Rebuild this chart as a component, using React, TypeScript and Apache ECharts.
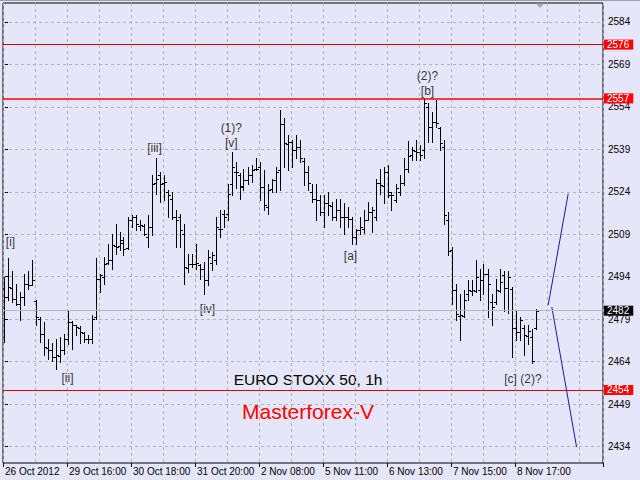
import React, { useEffect, useRef } from 'react';
import * as echarts from 'echarts';

// ---- data ----
const timeLabels = ['26 Oct 2012', '29 Oct 16:00', '30 Oct 18:00', '31 Oct 20:00', '2 Nov 08:00', '5 Nov 11:00', '6 Nov 13:00', '7 Nov 15:00', '8 Nov 17:00'];
const labelEvery = 16;
const totalSlots = 150; // bars + empty chart shift

const opens = [
  2490, 2487, 2490, 2486, 2484.5, 2487, 2491.5, 2491, 2485.5, 2479.2,
  2473.9, 2469, 2468, 2465.6, 2466, 2468, 2472, 2478, 2476.8, 2476,
  2474, 2472, 2472, 2479.8, 2493.3, 2494, 2499, 2500, 2505, 2505,
  2506, 2504, 2514, 2515, 2512, 2512, 2508, 2511.6, 2527, 2529.9,
  2527, 2524, 2521.6, 2515.1, 2515, 2509.2, 2497, 2498.6, 2498.6, 2498,
  2496.9, 2492.8, 2499, 2500, 2511, 2516.3, 2516, 2526.9, 2531.1, 2530,
  2526, 2528, 2530, 2532, 2532.8, 2525.7, 2518.7, 2525, 2528, 2531.6,
  2548, 2541, 2541.7, 2538.7, 2540, 2535, 2531, 2524, 2521.6, 2521,
  2517, 2519.9, 2519, 2515, 2517.5, 2515, 2515, 2514.5, 2508, 2510.4,
  2511, 2514, 2517, 2515, 2527, 2526, 2531, 2523, 2521, 2524,
  2527, 2532, 2537, 2538.5, 2538, 2538.7, 2554, 2547, 2548.7, 2546.4,
  2539.9, 2514, 2503.3, 2489.2, 2480, 2480, 2488, 2489, 2489, 2489.2,
  2493, 2495, 2485, 2485, 2489, 2494.5, 2490, 2489.8, 2476, 2474.5,
  2476, 2473, 2472.7, 2476,
];
const highs = [
  2494, 2500.7, 2496, 2491.5, 2488.6, 2495.1, 2496, 2499.8, 2485.7, 2479.8,
  2478, 2472.1, 2470.6, 2472.1, 2472.7, 2473.9, 2481.9, 2478.5, 2476.8, 2476.5,
  2474.5, 2473.3, 2480.4, 2500.7, 2495.1, 2501, 2505.7, 2509.2, 2512.8, 2509.8,
  2508, 2515.1, 2515.7, 2515.7, 2513.9, 2512.8, 2515.7, 2529.9, 2535.8, 2531,
  2529.9, 2524.6, 2524, 2517.5, 2516.3, 2512.8, 2502.2, 2502.2, 2505.7, 2498.6,
  2499.2, 2503.6, 2502.8, 2515.1, 2517.5, 2517.5, 2526.9, 2538.1, 2534.6, 2530.5,
  2532.2, 2532.8, 2533.4, 2535.8, 2534.6, 2531.6, 2526.9, 2528.7, 2532.8, 2552.9,
  2549.9, 2544, 2542.3, 2544, 2542.3, 2536, 2533, 2526.9, 2526.9, 2522.8,
  2522.8, 2524, 2520.4, 2521.6, 2521.6, 2519.9, 2518.7, 2515.1, 2511, 2515.1,
  2517.5, 2520.4, 2518.7, 2528.7, 2532.2, 2532.8, 2533.4, 2524, 2526.9, 2530,
  2536, 2542, 2539.9, 2542.3, 2540.5, 2557, 2555.2, 2552.3, 2556.4, 2547,
  2542.3, 2516.9, 2504.6, 2491.6, 2488, 2489.2, 2492.7, 2492.7, 2499.8, 2496.9,
  2498.6, 2496.9, 2488, 2493.3, 2496.9, 2496, 2496, 2490.4, 2482.1, 2479.8,
  2476.8, 2476.8, 2475.6, 2482.7,
];
const lows = [
  2471, 2485.7, 2485.1, 2483.9, 2478.6, 2483.9, 2489.8, 2491, 2477, 2470.9,
  2466.2, 2465, 2464.4, 2461.5, 2463.8, 2466.6, 2470.3, 2468.6, 2473.3, 2470.6,
  2470.9, 2470.6, 2470.6, 2479.2, 2488.6, 2491.5, 2498.6, 2496.9, 2502.2, 2503.3,
  2501.6, 2503.9, 2511.6, 2510.4, 2510.4, 2508.6, 2504.5, 2508.6, 2523.4, 2520.4,
  2521, 2515.1, 2514.5, 2504.5, 2504.5, 2491.6, 2495.7, 2497.4, 2496.9, 2493.3,
  2488, 2491, 2496.3, 2498.6, 2508.1, 2511.6, 2513.9, 2522.8, 2525.2, 2521.6,
  2524.6, 2526.9, 2527.5, 2531.6, 2521, 2517.5, 2516.3, 2524, 2524, 2524.6,
  2532.8, 2531.6, 2532.8, 2535.8, 2534.6, 2526.5, 2524.6, 2520.4, 2513.9, 2515.7,
  2511.6, 2515.7, 2513.9, 2513.9, 2511.6, 2509.2, 2511.6, 2505.7, 2505.7, 2509.2,
  2509.5, 2513.9, 2509.8, 2513.9, 2523.4, 2519.9, 2522.2, 2517.5, 2520.4, 2522.8,
  2526.5, 2531, 2535.2, 2535.2, 2535.2, 2535.8, 2541.7, 2541.7, 2547, 2538.7,
  2512.8, 2501.6, 2484.5, 2478.6, 2471.5, 2479.8, 2485.7, 2487.4, 2488.5, 2485.7,
  2488, 2479.8, 2476.8, 2484.5, 2488.5, 2481.8, 2481.2, 2465.6, 2471.5, 2471.5,
  2466.2, 2470.3, 2463.5, 2475.6,
];
const closes = [
  2487, 2490.4, 2486, 2484.5, 2487, 2491.5, 2491, 2493, 2479.8, 2473.9,
  2469.1, 2468, 2465.6, 2466.2, 2468, 2472.1, 2478, 2476.8, 2476.2, 2474.5,
  2472.1, 2472.1, 2479.2, 2493.3, 2494.5, 2498.6, 2499.8, 2505.1, 2504.5, 2506.9,
  2503.9, 2513.9, 2515.1, 2512.8, 2512.2, 2509.2, 2511.6, 2526.9, 2528.7, 2526.9,
  2527.5, 2522.8, 2515.1, 2514, 2510.4, 2497.4, 2498.6, 2498.6, 2499, 2496.9,
  2492.8, 2501, 2501.6, 2511.6, 2511, 2515.1, 2523.4, 2532.8, 2531, 2525.7,
  2528.1, 2529.9, 2531.6, 2532.2, 2525.7, 2519.3, 2524.6, 2528.1, 2531, 2548.1,
  2541.1, 2541.7, 2538.7, 2539.9, 2535.8, 2531, 2527, 2521.6, 2521, 2516.9,
  2519.9, 2519.3, 2515.1, 2517.5, 2515.1, 2515.1, 2514.5, 2508.1, 2510.4, 2511.5,
  2514, 2516.9, 2517.5, 2527, 2526.3, 2531.1, 2524, 2522.8, 2525.2, 2527,
  2532, 2536.5, 2538.7, 2538.1, 2536.9, 2555.2, 2547, 2548.7, 2548.2, 2541.1,
  2515.7, 2503, 2489.2, 2481, 2480.4, 2485.7, 2489.2, 2489.2, 2493.9, 2492.7,
  2495.1, 2491.6, 2483.3, 2489.2, 2492.1, 2490, 2493.9, 2476, 2474.5, 2478.6,
  2473.3, 2475, 2464.4, 2482,
];

const priceTicks = [2434, 2449, 2464, 2479, 2494, 2509, 2524, 2539, 2554, 2569, 2584];
const levelLines = [2576, 2557, 2454];
const currentPrice = 2482;
const priceMin = 2428.2;
const priceMax = 2590.7;

// forecast lines (bar index, price)
const forecastUp = [[135.8, 2484], [140.8, 2523.3]];
const forecastDown = [[136.7, 2483.3], [142.9, 2433.8]];

// wave annotations
const waveTexts = ['[i]', '[ii]', '[iii]', '(1)?', '[v]', '[iv]', '[a]', '(2)?', '[b]', '[c] (2)?'];
const waveBars = [1.5, 15.75, 37.5, 56.7, 56.7, 50.75, 86.5, 105.75, 105.75, 129.6];
const wavePrices = [2506.2, 2458.1, 2539.4, 2546.4, 2541.1, 2482.5, 2501.2, 2564.9, 2559.3, 2457.7];

const BG = '#E6E6FA';
const FONT = 'Liberation Sans, Arial, sans-serif';

export default function App() {
  const ref = useRef<HTMLDivElement>(null);
  useEffect(() => {
    if (!ref.current) return;
    const chart = echarts.init(ref.current, null, { renderer: 'svg' });
    const categories = Array.from({ length: totalSlots }, (_, i) => String(i));
    const ohlc = opens.map((o, i) => [i, o, highs[i], lows[i], closes[i]]);
    const isLabelIdx = (i: number) => i % labelEvery === 0 && i < opens.length;

    const lineStyleBar = { stroke: '#000', lineWidth: 1 };

    const priceLabel = (bg: string) => ({
      show: true,
      position: 'end',
      distance: 1,
      formatter: (p: any) => String(p.value),
      color: '#fff',
      backgroundColor: bg,
      fontSize: 10,
      fontFamily: FONT,
      lineHeight: 10,
      padding: [0, 4, 0, 3],
    });

    chart.setOption({
      animation: false,
      backgroundColor: BG,
      grid: {
        left: 3, top: 3, right: 37, bottom: 17,
        show: true, borderColor: '#000', borderWidth: 1, backgroundColor: BG,
      },
      xAxis: [
        {
          type: 'category',
          data: categories,
          boundaryGap: true,
          axisLine: { show: false },
          axisTick: {
            show: true, length: 4, lineStyle: { color: '#000' },
            interval: (i: number) => isLabelIdx(i),
          },
          axisLabel: {
            show: true,
            interval: (i: number) => isLabelIdx(i),
            formatter: (_v: string, i: number) => (isLabelIdx(i) ? timeLabels[i / labelEvery] : ''),
            align: 'left',
            margin: 3,
            color: '#000',
            fontSize: 10,
            fontFamily: FONT,
            hideOverlap: false,
          },
          splitLine: {
            show: true,
            interval: (i: number) => i % 8 === 0,
            lineStyle: { color: '#b4b4b4', type: [3, 3], width: 1 },
          },
        },
        {
          type: 'value',
          min: -0.5,
          max: totalSlots - 0.5,
          show: false,
        },
      ],
      yAxis: {
        type: 'value',
        position: 'right',
        min: priceMin,
        max: priceMax,
        axisLine: { show: false },
        axisTick: { show: true, length: 3, customValues: priceTicks, lineStyle: { color: '#000' } },
        axisLabel: {
          show: true, customValues: priceTicks, margin: 5, color: '#000', fontSize: 10,
          fontFamily: FONT,
          formatter: (v: number) => String(Math.round(v)),
        },
        splitLine: { show: true, lineStyle: { color: '#b4b4b4', type: [3, 3], width: 1 } },
      },
      graphic: [
        { type: 'rect', shape: { x: 0, y: 0, width: 640, height: 1 }, style: { fill: '#a0a0a0' }, silent: true },
        { type: 'polygon', shape: { points: [[536, 3.5], [544, 3.5], [540, 8]] }, style: { fill: '#a8a8a8' }, silent: true },
        {
          type: 'text', x: 308, y: 379, silent: true,
          style: { text: 'EURO STOXX 50, 1h', fill: '#000', fontSize: 15.5, fontFamily: FONT, align: 'center', verticalAlign: 'middle' },
        },
        {
          type: 'text', x: 308, y: 411, silent: true,
          style: { text: 'Masterforex-V', fill: '#ff0000', fontSize: 21, fontFamily: FONT, align: 'center', verticalAlign: 'middle' },
        },
      ],
      series: [
        {
          type: 'custom',
          xAxisIndex: 0,
          clip: true,
          data: ohlc,
          encode: { x: 0, y: [1, 2, 3, 4] },
          renderItem: (_params: any, api: any) => {
            const idx = api.value(0);
            const pO = api.coord([idx, api.value(1)]);
            const pH = api.coord([idx, api.value(2)]);
            const pL = api.coord([idx, api.value(3)]);
            const pC = api.coord([idx, api.value(4)]);
            const x = Math.floor(pO[0]) - 0.5;
            const oy = Math.round(pO[1]) + 0.5;
            const cy = Math.round(pC[1]) + 0.5;
            return {
              type: 'group',
              children: [
                { type: 'line', shape: { x1: x, y1: Math.round(pH[1]), x2: x, y2: Math.round(pL[1]) + 1 }, style: lineStyleBar },
                { type: 'line', shape: { x1: x - 2.5, y1: oy, x2: x, y2: oy }, style: lineStyleBar },
                { type: 'line', shape: { x1: x, y1: cy, x2: x + 2.5, y2: cy }, style: lineStyleBar },
              ],
            };
          },
          markLine: {
            silent: true,
            symbol: 'none',
            data: [
              { yAxis: levelLines[0], lineStyle: { color: '#e00000', width: 1, type: 'solid' }, label: priceLabel('#ff0000') },
              { yAxis: levelLines[1], lineStyle: { color: '#ff0000', width: 1.5, type: 'solid' }, label: priceLabel('#ff0000') },
              { yAxis: levelLines[2], lineStyle: { color: '#e00000', width: 1, type: 'solid' }, label: priceLabel('#ff0000') },
              { yAxis: currentPrice, lineStyle: { color: '#b8b8b8', width: 1, type: 'solid' }, label: priceLabel('#000000') },
            ],
          },
        },
        {
          type: 'line',
          xAxisIndex: 1,
          data: forecastUp,
          symbol: 'none',
          lineStyle: { color: '#1a1aa0', width: 1 },
          silent: true,
        },
        {
          type: 'line',
          xAxisIndex: 1,
          data: forecastDown,
          symbol: 'none',
          lineStyle: { color: '#1a1aa0', width: 1 },
          silent: true,
        },
        {
          type: 'scatter',
          xAxisIndex: 1,
          symbolSize: 1,
          silent: true,
          itemStyle: { color: 'rgba(0,0,0,0)' },
          data: waveTexts.map((t, i) => [waveBars[i], wavePrices[i], t]),
          label: {
            show: true,
            position: [0, 0],
            align: 'center',
            verticalAlign: 'middle',
            formatter: (p: any) => p.value[2],
            color: '#000',
            textBorderWidth: 0,
            fontSize: 12,
            fontFamily: FONT,
          },
        },
      ],
    });
    return () => chart.dispose();
  }, []);
  return <div ref={ref} style={{ position: 'absolute', left: 0, top: 0, width: 640, height: 480 }} />;
}
